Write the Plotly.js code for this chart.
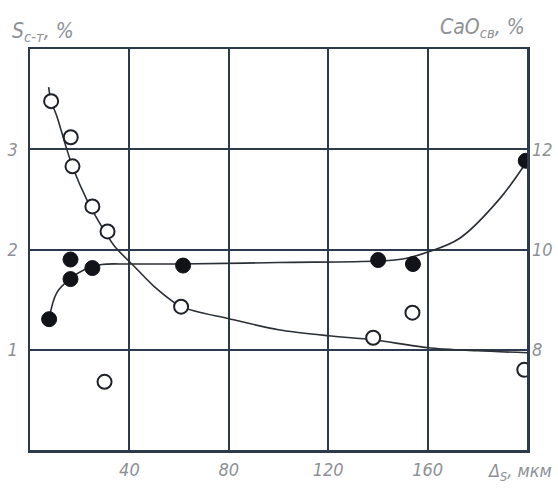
<!DOCTYPE html>
<html>
<head>
<meta charset="utf-8">
<script src="https://cdn.plot.ly/plotly-3.0.1.min.js"></script>
<style>html,body{margin:0;padding:0;background:#fff;}#chart{width:558px;height:489px;}</style>
</head>
<body>
<div id="chart"></div>
<script>
// S(с-т), % — open circles (left axis)
const sX = [8.5, 16.4, 17.1, 25.1, 31.2, 60.8, 138.1, 153.9, 30.0, 198.9];
const sY = [3.48, 3.12, 2.83, 2.43, 2.18, 1.43, 1.12, 1.37, 0.68, 0.80];
// fitted curve for S
const sCurveX = [7.5, 8.5, 10.8, 14.8, 17.5, 22.8, 28.8, 34.1, 42, 50, 60.8, 80, 100, 120, 138, 160, 180, 200];
const sCurveY = [3.62, 3.48, 3.33, 3.0, 2.8, 2.5, 2.23, 2.03, 1.83, 1.63, 1.43, 1.31, 1.2, 1.14, 1.1, 1.02, 0.99, 0.97];
// CaO(св), % — filled circles (right axis)
const cX = [7.7, 16.3, 16.3, 25.1, 61.6, 140.1, 154.1, 199.5];
const cY = [8.61, 9.8, 9.41, 9.63, 9.68, 9.79, 9.71, 11.77];
// fitted curve for CaO
const cCurveX = [7.7, 10.8, 16.3, 22, 28.8, 40, 60, 100, 140, 150, 159.5, 172.8, 188.8, 200];
const cCurveY = [8.62, 9.14, 9.42, 9.6, 9.7, 9.71, 9.71, 9.74, 9.77, 9.81, 9.94, 10.22, 11.0, 11.76];

const xTicks = [40, 80, 120, 160];
const yTicks = [1, 2, 3];
const y2Ticks = [8, 10, 12];

const lineCol = '#2d3a4c';
const txtCol = '#8d9196';
const fnt = 'Liberation Sans Narrow, DejaVu Sans Condensed, sans-serif';

const traces = [
  {x: sCurveX, y: sCurveY, mode: 'lines', line: {shape: 'spline', smoothing: 0.8, color: '#2a2f36', width: 1.6}, hoverinfo: 'skip'},
  {x: cCurveX, y: cCurveY, yaxis: 'y2', mode: 'lines', line: {shape: 'spline', smoothing: 1, color: '#2a2f36', width: 1.6}, hoverinfo: 'skip'},
  {x: sX, y: sY, mode: 'markers', marker: {size: 14, color: '#ffffff', line: {color: '#1e2228', width: 2}}},
  {x: cX, y: cY, yaxis: 'y2', mode: 'markers', marker: {size: 15, color: '#111318', line: {color: '#111318', width: 1}}}
];

const layout = {
  width: 558, height: 489,
  margin: {l: 30, r: 31, t: 49, b: 39},
  paper_bgcolor: '#fff', plot_bgcolor: '#fff',
  showlegend: false,
  font: {family: fnt, color: txtCol, size: 17},
  xaxis: {range: [0, 200], tickvals: xTicks, ticktext: xTicks.map(String),
    showgrid: true, gridcolor: lineCol, gridwidth: 2,
    showline: true, linecolor: lineCol, linewidth: 2.5, mirror: true,
    zeroline: false, ticks: '', ticklabelstandoff: 2,
    tickfont: {family: fnt, size: 18, color: txtCol, style: 'italic'}},
  yaxis: {range: [0, 4], tickvals: yTicks, ticktext: yTicks.map(String),
    showgrid: true, gridcolor: lineCol, gridwidth: 2,
    showline: true, linecolor: lineCol, linewidth: 2.5, mirror: true,
    zeroline: false, ticks: '', ticklabelstandoff: 6,
    tickfont: {family: fnt, size: 18, color: txtCol, style: 'italic'}},
  yaxis2: {range: [6, 14], overlaying: 'y', side: 'right', tickvals: y2Ticks, ticktext: y2Ticks.map(String),
    showgrid: false, zeroline: false, showline: false, ticks: '', ticklabelstandoff: 4,
    tickfont: {family: fnt, size: 18, color: txtCol, style: 'italic'}},
  annotations: [
    {xref: 'paper', yref: 'paper', x: -0.04, y: 1.005, xanchor: 'left', yanchor: 'bottom', showarrow: false,
     text: '<i>S<sub>с-т</sub>, %</i>', font: {family: fnt, size: 21, color: txtCol}},
    {xref: 'paper', yref: 'paper', x: 1.0, y: 1.015, xanchor: 'right', yanchor: 'bottom', showarrow: false,
     text: '<i>CaO<sub>св</sub>, %</i>', font: {family: fnt, size: 21, color: txtCol}},
    {xref: 'paper', yref: 'paper', x: 1.055, y: -0.02, xanchor: 'right', yanchor: 'top', showarrow: false,
     text: '<i>Δ<sub>S</sub>, мкм</i>', font: {family: fnt, size: 18, color: txtCol}}
  ]
};

Plotly.newPlot('chart', traces, layout, {displayModeBar: false, staticPlot: true});
</script>
</body>
</html>
